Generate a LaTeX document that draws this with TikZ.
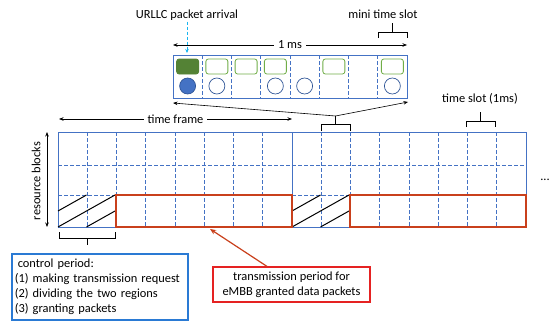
\documentclass[tikz,border=0pt]{standalone}
\usepackage{fontspec}
\setmainfont{Carlito}
\usetikzlibrary{arrows.meta,calc}
\definecolor{gridblue}{HTML}{4472C4}
\definecolor{darkblue}{HTML}{2F5597}
\definecolor{fillgreen}{HTML}{548235}
\definecolor{linegreen}{HTML}{70AD47}
\definecolor{embbred}{HTML}{C9401C}
\definecolor{boxred}{HTML}{E52222}
\definecolor{boxblue}{HTML}{2A7AD4}
\definecolor{urllccyan}{HTML}{19B5F0}
\begin{document}
\begin{tikzpicture}[x=1pt,y=-1pt,
  font=\fontsize{12.4}{15}\selectfont,
  gridline/.style={gridblue, line width=0.7pt, dash pattern=on 3.5pt off 2.5pt},
  frameline/.style={gridblue, line width=0.8pt},
  hatchline/.style={black, line width=1pt},
  embb/.style={embbred, line width=2pt},
  dimarrow/.style={black, line width=0.6pt, {Stealth[length=4.5pt,width=3.5pt]}-{Stealth[length=4.5pt,width=3.5pt]}},
  bracketline/.style={black, line width=0.7pt},
  label/.style={inner sep=1pt},
  gaplabel/.style={fill=white, inner xsep=4pt, inner ysep=1pt},
  minirect/.style={draw=linegreen, fill=white, line width=0.8pt, rounded corners=2.5pt, minimum width=22pt, minimum height=15pt, inner sep=0pt},
  minirectfull/.style={minirect, draw=fillgreen, fill=fillgreen},
  minicirc/.style={circle, draw=darkblue, fill=white, line width=0.7pt, minimum size=16pt, inner sep=0pt},
  minicircfull/.style={minicirc, fill=gridblue},
]
\useasboundingbox (0,0) rectangle (553,321);

% ---------- main grid ----------
\foreach \i in {1,...,7,9,10,...,15}
  \draw[gridline] ({58+\i*29.25},132) -- ({58+\i*29.25},227);
\foreach \yy in {165,195}
  \draw[gridline] (58,\yy) -- (526,\yy);
\draw[frameline] (58,132) rectangle (526,227);
\draw[frameline] (292,132) -- (292,227);

% hatching of control periods
\foreach \off in {0,234}{
  \draw[hatchline] ({58+\off},211) -- ({86.5+\off},195);
  \draw[hatchline] ({58+\off},227) -- ({115+\off},195);
  \draw[hatchline] ({86.5+\off},227) -- ({115+\off},211);
}

% eMBB transmission periods
\draw[embb] (115.5,195) rectangle (292,227);
\draw[embb] (350,195) rectangle (525.5,227);

% ---------- mini slot box ----------
\foreach \i in {1,...,7}
  \draw[gridline] ({173+\i*29.25},55) -- ({173+\i*29.25},98);
\node[draw=gridblue, line width=0.8pt, minimum width=234pt, minimum height=43pt, inner sep=0pt] (mini) at (290,76.5) {};

\node[minirectfull] (r1) at ({173+0.5*29.25},66.5) {};
\foreach \i in {2,3,4,6,8}
  \node[minirect] (r\i) at ({173+(\i-0.5)*29.25},66.5) {};
\node[minicircfull] (c1) at ({173+0.5*29.25},86) {};
\foreach \i in {2,4,5,8}
  \node[minicirc] (c\i) at ({173+(\i-0.5)*29.25},86) {};

% ---------- labels and arrows ----------
\node[label] (urllc) at (187,15) {URLLC packet arrival};
\coordinate (urllcend) at (187,53);
\draw[urllccyan, line width=0.9pt, dash pattern=on 3pt off 2pt, -{Stealth[length=4pt,width=3.5pt]}] (urllc.south) -- (urllcend);

\coordinate (msL) at (173,45);
\coordinate (msR) at (407,45);
\draw[dimarrow] (msL) -- (msR) node[midway, gaplabel] (onems) {1 ms};

\node[label] (minilabel) at (383,14) {mini time slot};
\coordinate (mbL) at (378,38); \coordinate (mbR) at (407,38);
\draw[bracketline] (mbL) -- (378,32) -- (407,32) -- (mbR);
\coordinate (mbT) at (392.5,23);
\draw[bracketline] (392.5,32) -- (mbT);

\coordinate (tfL) at (59,119);
\coordinate (tfR) at (292,119);
\draw[dimarrow] (tfL) -- (tfR) node[pos=0.5, gaplabel] (tf) {time frame};

\coordinate (rbT) at (47,132);
\coordinate (rbB) at (47,227);
\draw[dimarrow] (rbT) -- (rbB);
\node[label, rotate=90] (rb) at (36,181) {resource blocks};

% zoom bracket on second frame
\draw[bracketline] (321,131) -- (321,124) -- (350,124) -- (350,131);
\coordinate (zbT) at (335.5,116);
\draw[bracketline] (335.5,124) -- (zbT);
\coordinate (zL) at (173,103);
\coordinate (zR) at (408,102);
\draw[black, line width=0.6pt, -{Stealth[length=4.5pt,width=3.5pt]}] (zbT) -- (zL);
\draw[black, line width=0.6pt, -{Stealth[length=4.5pt,width=3.5pt]}] (zbT) -- (zR);

% time slot bracket
\node[label] (tslabel) at (480,99) {time slot (1ms)};
\draw[bracketline] (466,127) -- (466,121) -- (495,121) -- (495,127);
\draw[bracketline] (480.5,121) -- (480.5,112);

\node[label] (dots) at (545,180) {...};

% control period bracket
\draw[bracketline] (59,232) -- (59,238) -- (115,238) -- (115,232);
\draw[bracketline] (87,238) -- (87,245);

\node[draw=boxblue, line width=1.5pt, anchor=north west, minimum width=174pt, minimum height=66pt, text width=170pt, inner xsep=3pt, inner ysep=0pt, align=left] (ctrl) at (11,253)
 {\hspace*{3pt}control period:\\(1) making transmission request\\(2) dividing the two regions\\(3) granting packets};

\node[draw=boxred, line width=1.2pt, minimum width=157pt, minimum height=35pt, inner sep=0pt, align=center] (trans) at (291.5,284.5)
 {transmission period for\\eMBB granted data packets};
\coordinate (embbtip) at (210,229);
\draw[embbred, line width=1.2pt, -{Stealth[length=6pt,width=5pt]}] ([xshift=-24.5pt]trans.north) -- (embbtip);
\end{tikzpicture}
\end{document}
